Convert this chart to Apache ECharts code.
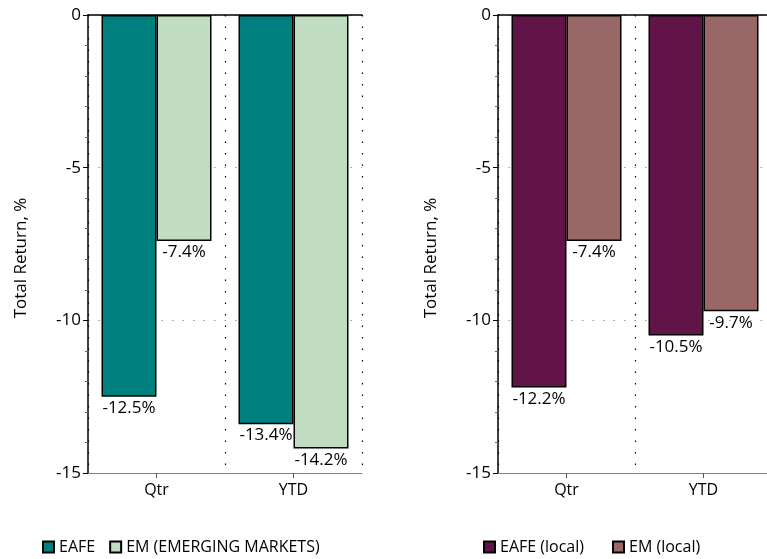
<!DOCTYPE html>
<html>
<head>
<meta charset="utf-8">
<script src="https://cdn.jsdelivr.net/npm/echarts@6/dist/echarts.min.js"></script>
<style>
html,body{margin:0;padding:0;background:#fff;}
#chart{width:767px;height:559px;}
</style>
</head>
<body>
<div id="chart"></div>
<script>
const categories = ['Qtr', 'YTD'];
const eafeUsd = [-12.5, -13.4];
const emUsd = [-7.4, -14.2];
const eafeLocal = [-12.2, -10.5];
const emLocal = [-7.4, -9.7];
const yTicks = { min: -15, max: 0, interval: 5 };
const yName = 'Total Return, %';
const FONT = 'Open Sans';

const chart = echarts.init(document.getElementById('chart'), null, { renderer: 'canvas' });

function bottomX(gi) {
  return {
    type: 'category', gridIndex: gi, data: categories, position: 'bottom',
    boundaryGap: true,
    axisLine: { show: true, onZero: false, lineStyle: { color: '#808080', width: 1 } },
    axisTick: { show: true, alignWithLabel: true, length: 5, lineStyle: { color: '#555' } },
    axisLabel: { color: '#000', fontSize: 16, fontFamily: FONT, margin: 9 },
    splitLine: { show: true, lineStyle: { color: '#000', type: [1.5, 10], width: 1.2 } }
  };
}
function topX(gi) {
  return {
    type: 'category', gridIndex: gi, data: categories, position: 'top',
    axisLine: { show: true, onZero: false, lineStyle: { color: '#000', width: 1.5 } },
    axisTick: { show: false }, axisLabel: { show: false }, splitLine: { show: false }
  };
}
function yAx(gi) {
  return {
    type: 'value', gridIndex: gi, min: yTicks.min, max: yTicks.max, interval: yTicks.interval,
    name: yName, nameLocation: 'middle', nameGap: 58, nameRotate: 90,
    nameTextStyle: { color: '#000', fontSize: 17, fontFamily: FONT, padding: [0, 28, 0, 0] },
    axisLine: { show: true, onZero: false, lineStyle: { color: '#000', width: 1.5 } },
    axisTick: { show: true, length: 5, lineStyle: { color: '#000' } },
    minorTick: { show: true, splitNumber: 5, length: 3, lineStyle: { color: '#666' } },
    axisLabel: { color: '#000', fontSize: 17, fontFamily: FONT, margin: 7 },
    splitLine: { show: true, lineStyle: { color: '#999', type: [1.5, 9], width: 1.2 } }
  };
}
function barSeries(name, data, color, xi, yi) {
  return {
    type: 'bar', name, data, xAxisIndex: xi, yAxisIndex: yi,
    barWidth: 55, barGap: '0%',
    itemStyle: { color, borderColor: '#000', borderWidth: 1.5 },
    label: {
      show: true, position: 'bottom', distance: 3, color: '#000', fontSize: 17, fontFamily: FONT,
      formatter: p => p.value.toFixed(1) + '%'
    },
    emphasis: { disabled: true }, animation: false
  };
}

const option = {
  animation: false,
  grid: [
    { left: 88, width: 274, top: 15, bottom: 86, outerBoundsMode: 'none' },
    { left: 498, width: 274, top: 15, bottom: 86, outerBoundsMode: 'none' }
  ],
  xAxis: [bottomX(0), topX(0), bottomX(1), topX(1)],
  yAxis: [yAx(0), yAx(1)],
  legend: [
    {
      data: ['EAFE', 'EM (EMERGING MARKETS)'], left: 37, top: 534, icon: 'rect',
      itemWidth: 11, itemHeight: 11, itemGap: 14,
      textStyle: { color: '#000', fontSize: 16, fontFamily: FONT },
      selectedMode: false
    },
    {
      data: ['EAFE (local)', 'EM (local)'], left: 478, top: 534, icon: 'rect',
      itemWidth: 11, itemHeight: 11, itemGap: 28,
      textStyle: { color: '#000', fontSize: 16, fontFamily: FONT },
      selectedMode: false
    }
  ],
  series: [
    barSeries('EAFE', eafeUsd, '#007f7f', 0, 0),
    barSeries('EM (EMERGING MARKETS)', emUsd, '#c1ddc1', 0, 0),
    barSeries('EAFE (local)', eafeLocal, '#621448', 2, 1),
    barSeries('EM (local)', emLocal, '#996766', 2, 1)
  ]
};
chart.setOption(option);
</script>
</body>
</html>
